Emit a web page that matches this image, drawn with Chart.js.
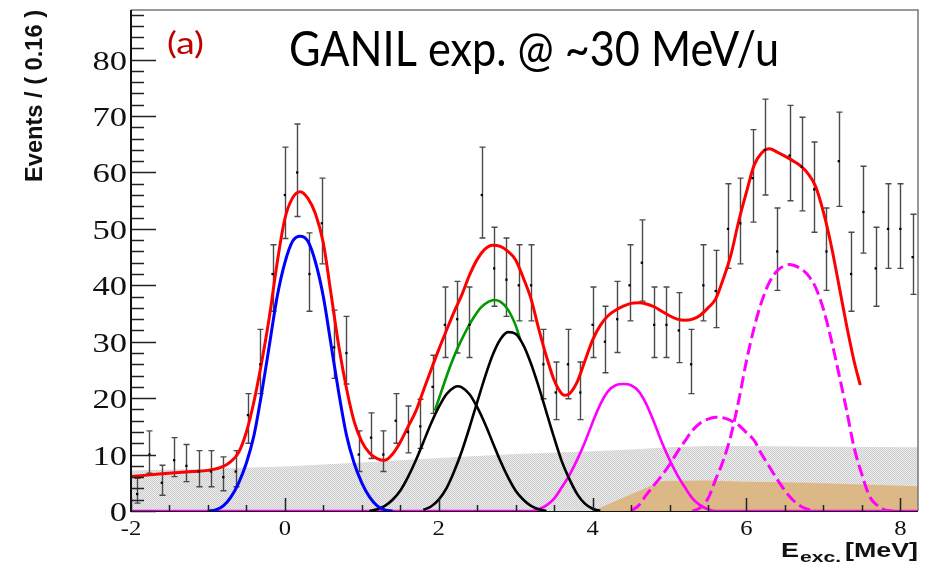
<!DOCTYPE html>
<html>
<head>
<meta charset="utf-8">
<script src="https://cdn.jsdelivr.net/npm/chart.js@4.4.1/dist/chart.umd.min.js"></script>
<style>
    html, body { margin: 0; padding: 0; background: #fff; }
    #wrap { width: 932px; height: 570px; }
</style>
</head>
<body>
<div id="wrap"><canvas id="chart" width="932" height="570"></canvas></div>
<script>
// measured spectrum, bin width 0.16 MeV
var binCenters = [-1.92, -1.76, -1.60, -1.44, -1.28, -1.12, -0.96, -0.80, -0.64, -0.48, -0.32, -0.16,
    0.00, 0.16, 0.32, 0.48, 0.64, 0.80, 0.96, 1.12, 1.28, 1.44, 1.60, 1.76, 1.92, 2.08, 2.24, 2.40,
    2.56, 2.72, 2.88, 3.04, 3.20, 3.36, 3.52, 3.68, 3.84, 4.00, 4.16, 4.32, 4.48, 4.64, 4.80, 4.96,
    5.12, 5.28, 5.44, 5.60, 5.76, 5.92, 6.08, 6.24, 6.40, 6.56, 6.72, 6.88, 7.04, 7.20, 7.36, 7.52,
    7.68, 7.84, 8.00, 8.16];
var counts = [3, 10, 5, 9, 8, 7, 7, 6, 7, 17, 26, 42,
    56, 60, 42, 51, 29, 28, 10, 13, 10, 16, 14, 15, 22, 33, 34, 33,
    56, 43, 41, 40, 40, 26, 21, 26, 21, 33, 30, 34, 40, 44, 33, 33,
    32, 26, 40, 39, 50, 51, 59, 64, 46, 63, 61, 57, 46, 62, 42, 53,
    43, 50, 50, 45];
var errLow = [1.4, 6.7, 2.8, 6.1, 5.2, 4.3, 4.3, 3.6, 4.3, 12.0, 20.8, 35.4,
    48.3, 52.2, 35.4, 43.8, 23.5, 22.5, 7.0, 9.3, 7.0, 12.0, 10.3, 11.1, 17.3, 27.2, 28.0, 27.2,
    48.4, 36.3, 34.5, 33.7, 33.7, 19.9, 16.2, 19.9, 16.2, 27.2, 24.5, 28.1, 33.7, 37.2, 27.2, 27.2,
    26.3, 20.8, 33.7, 32.5, 43.0, 43.8, 51.2, 56.0, 39.1, 55.0, 53.2, 49.4, 39.1, 54.0, 35.4, 45.7,
    36.3, 43.0, 43.0, 38.4];
var errHigh = [5.8, 14.2, 8.1, 13.0, 11.8, 10.7, 10.7, 9.6, 10.7, 20.8, 32.2, 47.2,
    64.5, 68.6, 49.3, 59.0, 35.6, 34.5, 14.2, 17.4, 14.2, 20.8, 18.6, 19.8, 27.6, 39.7, 40.7, 39.7,
    64.5, 50.3, 48.4, 47.2, 47.2, 32.2, 26.4, 32.2, 26.4, 39.7, 36.3, 40.7, 47.2, 51.6, 39.7, 39.7,
    38.7, 32.2, 47.2, 46.2, 58.0, 59.0, 67.6, 73.0, 53.7, 71.9, 69.8, 65.4, 53.7, 70.7, 49.4, 61.1,
    50.3, 58.0, 58.0, 52.6];

// total fit (red)
var totalX = [-2.0, -1.6, -1.2, -1.0, -0.8, -0.7, -0.6, -0.5, -0.4, -0.3, -0.2, -0.1, 0.0, 0.1, 0.2,
    0.3, 0.4, 0.5, 0.6, 0.7, 0.8, 0.9, 1.0, 1.1, 1.2, 1.3, 1.4, 1.5, 1.6, 1.7, 1.8, 1.9, 2.0, 2.1,
    2.2, 2.3, 2.4, 2.5, 2.6, 2.7, 2.8, 2.9, 3.0, 3.1, 3.2, 3.3, 3.4, 3.5, 3.6, 3.65, 3.7, 3.8, 3.9,
    4.0, 4.1, 4.2, 4.3, 4.4, 4.5, 4.6, 4.7, 4.8, 4.9, 5.0, 5.1, 5.2, 5.3, 5.4, 5.5, 5.6, 5.7, 5.8,
    5.9, 6.0, 6.1, 6.2, 6.3, 6.4, 6.5, 6.6, 6.7, 6.8, 6.9, 7.0, 7.1, 7.2, 7.3, 7.4, 7.48];
var totalY = [6.1, 6.6, 7.0, 7.2, 7.9, 8.8, 10.4, 14.0, 19.5, 26.5, 34.5, 44.0, 51.8, 55.5, 56.6,
    55.4, 52.6, 47.5, 38.5, 29.3, 21.8, 15.9, 12.3, 10.3, 9.3, 9.0, 10.1, 12.2, 14.9, 17.6, 21.3, 25.0, 28.6, 32.0,
    35.3, 38.3, 41.8, 44.6, 46.4, 47.1, 46.9, 46.0, 44.5, 41.3, 37.6, 32.3, 27.4, 23.2, 20.8, 20.5, 20.8, 22.9, 26.6,
    30.3, 32.9, 34.6, 35.6, 36.3, 36.8, 36.9, 36.7, 36.2, 35.4, 34.6, 34.0, 33.8, 34.0, 34.7, 36.0, 37.6, 41.2, 45.5,
    51.4, 56.5, 61.3, 63.5, 64.2, 63.6, 62.9, 62.1, 61.2, 59.8, 57.5, 53.0, 47.2, 40.2, 33.0, 26.5, 22.3];

// ground state peak (blue)
var peak0X = [-1.0, -0.9, -0.8, -0.7, -0.6, -0.5, -0.4, -0.3, -0.2, -0.1, 0.0, 0.1, 0.2, 0.3,
    0.4, 0.5, 0.6, 0.7, 0.8, 0.9, 1.0, 1.1, 1.2, 1.3, 1.4];
var peak0Y = [0, 0.2, 0.9, 2.5, 5.0, 8.5, 13.5, 21.0, 29.5, 38.0, 44.0, 47.8, 48.7, 47.8,
    44.0, 38.0, 29.5, 21.0, 13.5, 8.5, 5.0, 2.5, 0.9, 0.2, 0];

// doublet around 2.5 MeV (black) and their sum (green)
var peak1X = [1.1, 1.2, 1.3, 1.4, 1.5, 1.6, 1.7, 1.8, 1.9, 2.0, 2.1, 2.2, 2.25, 2.3, 2.4, 2.5,
    2.6, 2.7, 2.8, 2.9, 3.0, 3.1, 3.2, 3.3, 3.4];
var peak1Y = [0, 0.3, 0.9, 2.0, 3.6, 6.0, 8.9, 12.2, 15.5, 18.4, 20.7, 21.9, 22.1, 21.9, 20.7, 18.4,
    15.5, 12.2, 8.9, 6.0, 3.6, 2.0, 0.9, 0.3, 0];
var peak2X = [1.8, 1.9, 2.0, 2.1, 2.2, 2.3, 2.4, 2.5, 2.6, 2.7, 2.8, 2.9, 3.0, 3.1, 3.2, 3.3,
    3.4, 3.5, 3.6, 3.7, 3.8, 3.9, 4.0, 4.1];
var peak2Y = [0.2, 0.8, 2.0, 4.0, 7.0, 10.6, 14.8, 19.3, 23.7, 27.6, 30.4, 31.7, 31.4, 29.4, 26.1, 22.0,
    17.5, 13.0, 8.8, 5.6, 3.0, 1.3, 0.4, 0];
var doubletX = [1.95, 2.05, 2.15, 2.25, 2.35, 2.45, 2.55, 2.65, 2.72, 2.8, 2.9, 3.0, 3.06];
var doubletY = [17.8, 21.8, 25.7, 29.0, 31.8, 34.2, 36.1, 37.1, 37.4, 37.1, 35.7, 32.9, 30.4];

// peak at 4.4 MeV (magenta solid)
var peak3X = [-2.0, 3.2, 3.3, 3.4, 3.5, 3.6, 3.7, 3.8, 3.9, 4.0, 4.1, 4.2, 4.3, 4.4, 4.5, 4.6,
    4.7, 4.8, 4.9, 5.0, 5.1, 5.2, 5.3, 5.4, 5.5, 5.6, 8.23];
var peak3Y = [0, 0, 0.3, 1.0, 2.2, 4.2, 6.4, 9.1, 12.2, 15.7, 18.9, 21.2, 22.3, 22.5, 22.3, 21.2,
    18.9, 15.7, 12.2, 9.1, 6.4, 4.2, 2.2, 1.0, 0.3, 0, 0];

// unbound states (magenta dashed)
var peak4X = [4.5, 4.6, 4.7, 4.8, 4.9, 5.0, 5.1, 5.2, 5.3, 5.4, 5.5, 5.6, 5.7, 5.8, 5.9, 6.0,
    6.1, 6.2, 6.3, 6.4, 6.5, 6.6, 6.7, 6.8, 6.9];
var peak4Y = [0, 1.0, 2.9, 4.6, 6.3, 8.2, 10.4, 12.4, 14.3, 15.6, 16.3, 16.6, 16.5, 16.0, 15.2, 13.9,
    12.5, 10.0, 7.8, 5.6, 3.6, 2.0, 0.9, 0.3, 0];
var peak5X = [5.3, 5.4, 5.5, 5.6, 5.7, 5.8, 5.9, 6.0, 6.1, 6.2, 6.3, 6.4, 6.5, 6.56, 6.6, 6.7,
    6.8, 6.9, 7.0, 7.1, 7.2, 7.3, 7.4, 7.5, 7.6, 7.7, 7.8, 7.9];
var peak5Y = [0, 0.6, 2.2, 5.6, 9.0, 13.5, 19.6, 26.6, 32.5, 37.2, 40.6, 42.6, 43.5, 43.7, 43.6, 43.0,
    41.8, 39.6, 35.8, 30.5, 24.4, 18.0, 11.2, 6.5, 2.6, 1.0, 0.2, 0];

// backgrounds
var bkg1X = [-2.0, -1.0, 0.0, 1.0, 2.0, 3.0, 4.0, 4.5, 5.0, 5.5, 6.0, 7.0, 8.23];
var bkg1Y = [7.2, 7.5, 7.9, 8.6, 9.4, 10.1, 10.6, 10.9, 11.3, 11.5, 11.5, 11.4, 11.3];
var bkg2X = [4.0, 4.9, 5.5, 6.0, 6.5, 7.0, 7.5, 8.23];
var bkg2Y = [0, 5.3, 5.4, 5.2, 5.1, 4.9, 4.7, 4.4];

var xTickValues = [-2, 0, 2, 4, 6, 8];
var xTickLabels = ['-2', '0', '2', '4', '6', '8'];
var yTickValues = [0, 10, 20, 30, 40, 50, 60, 70, 80];
var yTickLabels = ['0', '10', '20', '30', '40', '50', '60', '70', '80'];

function pts(xs, ys) {
    return xs.map(function (x, i) { return {x: x, y: ys[i]}; });
}

function hatch() {
    var c = document.createElement('canvas');
    c.width = 2; c.height = 2;
    var g = c.getContext('2d');
    g.fillStyle = '#ececec'; g.fillRect(0, 0, 2, 2);
    g.fillStyle = '#cdcdcd'; g.fillRect(0, 0, 1, 1); g.fillRect(1, 1, 1, 1);
    return g.createPattern(c, 'repeat');
}

function curve(label, xs, ys, color, width, dash, order) {
    return {
        label: label, data: pts(xs, ys), borderColor: color, borderWidth: width,
        borderDash: dash, pointRadius: 0, fill: false, tension: 0.4,
        cubicInterpolationMode: 'monotone', order: order
    };
}

function fitText(ctx, text, x, y, font, width, color) {
    ctx.save();
    ctx.font = font;
    ctx.fillStyle = color;
    ctx.textAlign = 'left';
    ctx.textBaseline = 'alphabetic';
    var w = ctx.measureText(text).width;
    ctx.translate(x, y);
    ctx.scale(width / w, 1);
    ctx.fillText(text, 0, 0);
    ctx.restore();
}

function drawErrorBars(chart) {
    var xs = chart.scales.x, ys = chart.scales.y, ctx = chart.ctx, a = chart.chartArea;
    ctx.save();
    ctx.beginPath();
    ctx.rect(a.left, a.top, a.right - a.left, a.bottom - a.top);
    ctx.clip();
    ctx.strokeStyle = '#4a4a4a';
    ctx.lineWidth = 1.4;
    for (var i = 0; i < binCenters.length; i++) {
        var px = Math.round(xs.getPixelForValue(binCenters[i])) + 0.5;
        var top = ys.getPixelForValue(errHigh[i]);
        var bot = ys.getPixelForValue(errLow[i]);
        ctx.beginPath();
        ctx.moveTo(px, top); ctx.lineTo(px, bot);
        ctx.moveTo(px - 3, top); ctx.lineTo(px + 3, top);
        ctx.moveTo(px - 3, bot); ctx.lineTo(px + 3, bot);
        ctx.stroke();
    }
    ctx.restore();
}

function drawTicks(chart) {
    var xs = chart.scales.x, ys = chart.scales.y, ctx = chart.ctx, a = chart.chartArea;
    ctx.save();
    ctx.strokeStyle = '#222';
    ctx.lineWidth = 1.5;
    ctx.beginPath();
    for (var v = 0; v <= 88; v += 2) {
        var py = Math.round(ys.getPixelForValue(v)) + 0.5;
        var len = (v % 10 === 0) ? 25 : 13;
        ctx.moveTo(a.left, py); ctx.lineTo(a.left + len, py);
    }
    for (var k = 0; k <= 20; k++) {
        var xv = -2 + k * 0.5;
        var px = Math.round(xs.getPixelForValue(xv)) + 0.5;
        var l = (k % 4 === 0) ? 13 : 6;
        ctx.moveTo(px, a.bottom); ctx.lineTo(px, a.bottom - l);
    }
    ctx.stroke();
    // frame
    ctx.strokeStyle = '#777';
    ctx.lineWidth = 1.5;
    ctx.beginPath();
    ctx.moveTo(a.left, a.top); ctx.lineTo(a.right, a.top); ctx.lineTo(a.right, a.bottom);
    ctx.stroke();
    ctx.strokeStyle = '#111';
    ctx.lineWidth = 2;
    ctx.beginPath();
    ctx.moveTo(a.left, a.top); ctx.lineTo(a.left, a.bottom + 1);
    ctx.stroke();
    ctx.restore();
}

function drawTexts(chart) {
    var xs = chart.scales.x, ys = chart.scales.y, ctx = chart.ctx;
    ctx.save();
    ctx.font = '27px "Liberation Serif"';
    yTickValues.forEach(function (v, i) {
        var w = ctx.measureText(yTickLabels[i]).width * 1.28;
        var py = ys.getPixelForValue(v);
        fitText(ctx, yTickLabels[i], 127 - w, py + 10, '27px "Liberation Serif"', w, '#111');
    });
    ctx.font = '22px "Liberation Serif"';
    xTickValues.forEach(function (v, i) {
        var w = ctx.measureText(xTickLabels[i]).width * 1.12;
        var px = xs.getPixelForValue(v);
        fitText(ctx, xTickLabels[i], px - w / 2, 535, '22px "Liberation Serif"', w, '#111');
    });
    ctx.restore();

    // axis titles
    ctx.save();
    ctx.translate(42, 10);
    ctx.rotate(-Math.PI / 2);
    fitText(ctx, 'Events / ( 0.16 )', -172, 0, 'bold 23px "Liberation Sans"', 172, '#111');
    ctx.restore();

    fitText(ctx, 'E', 781, 557, 'bold 21px "Liberation Sans"', 18, '#111');
    fitText(ctx, 'exc.', 800, 562, 'bold 14px "Liberation Sans"', 41, '#111');
    fitText(ctx, '[MeV]', 845, 557, 'bold 21px "Liberation Sans"', 73, '#111');

    // labels in the frame
    fitText(ctx, '(a)', 167, 54, '31px Lato', 37, '#c00000');
    fitText(ctx, 'GANIL exp. @ ~30 MeV/u', 289, 66, '48px Lato', 490, '#000');
}

var rootStyle = {
    id: 'rootStyle',
    beforeDatasetsDraw: function (chart) {
        var a = chart.chartArea, ctx = chart.ctx;
        ctx.save();
        ctx.strokeStyle = '#111';
        ctx.lineWidth = 2;
        ctx.beginPath();
        ctx.moveTo(a.left, a.bottom); ctx.lineTo(a.right, a.bottom);
        ctx.stroke();
        ctx.restore();
    },
    afterDatasetDraw: function (chart, args) {
        if (chart.data.datasets[args.index].label === 'Background 2') {
            drawErrorBars(chart);
        }
    },
    afterDatasetsDraw: function (chart) {
        drawTicks(chart);
    },
    afterDraw: function (chart) {
        drawTexts(chart);
    }
};

var ctx = document.getElementById('chart').getContext('2d');

var chart = new Chart(ctx, {
    type: 'line',
    data: {
        datasets: [
            {
                label: 'Data', data: pts(binCenters, counts), showLine: false,
                pointRadius: 1.6, pointStyle: 'rect', pointBackgroundColor: '#000',
                pointBorderWidth: 0, borderColor: '#000', order: 0
            },
            curve('Total fit', totalX, totalY, '#ff0000', 3, [], 1),
            curve('Peak 0', peak0X, peak0Y, '#0000ff', 3, [], 2),
            curve('Peak 1', peak1X, peak1Y, '#000000', 2.6, [], 2),
            curve('Peak 2', peak2X, peak2Y, '#000000', 2.6, [], 2),
            curve('Doublet', doubletX, doubletY, '#009900', 2.6, [], 3),
            curve('Peak 3', peak3X, peak3Y, '#ff00ff', 2.6, [], 2),
            curve('Peak 4', peak4X, peak4Y, '#ff00ff', 3, [12, 5], 2),
            curve('Peak 5', peak5X, peak5Y, '#ff00ff', 3, [12, 5], 2),
            {
                label: 'Background 2', data: pts(bkg2X, bkg2Y), fill: 'origin',
                backgroundColor: '#ddb887', borderColor: 'rgba(0,0,0,0)', borderWidth: 1,
                pointRadius: 0, tension: 0, order: 8
            },
            {
                label: 'Background 1', data: pts(bkg1X, bkg1Y), fill: 'origin',
                backgroundColor: hatch(), borderColor: 'rgba(0,0,0,0)', borderWidth: 1,
                pointRadius: 0, tension: 0, order: 9
            }
        ]
    },
    options: {
        responsive: false,
        devicePixelRatio: 1,
        animation: false,
        events: [],
        layout: {
            padding: {top: 10, right: 14, left: 0, bottom: 0}
        },
        plugins: {
            legend: {display: false},
            tooltip: {enabled: false}
        },
        scales: {
            x: {
                type: 'linear', min: -2, max: 8.23,
                ticks: {display: false},
                grid: {display: false},
                border: {display: false},
                afterFit: function (scale) { scale.height = 59; }
            },
            y: {
                type: 'linear', min: 0, max: 88.8,
                ticks: {display: false},
                grid: {display: false},
                border: {display: false},
                afterFit: function (scale) { scale.width = 131; }
            }
        }
    },
    plugins: [rootStyle]
});
</script>
</body>
</html>
